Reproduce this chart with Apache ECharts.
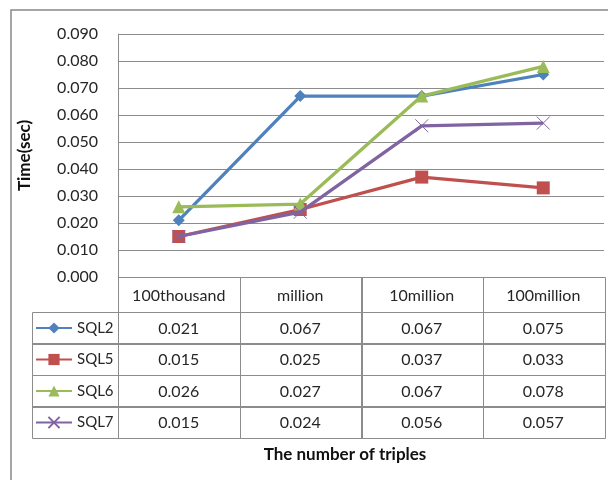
<!DOCTYPE html>
<html><head><meta charset="utf-8">
<script src="https://cdn.jsdelivr.net/npm/echarts@6/dist/echarts.min.js"></script>
<style>html,body{margin:0;padding:0;background:#fff}#c{width:608px;height:480px}</style>
</head><body><div id="c"></div>
<script>
const categories = ['100thousand', 'million', '10million', '100million'];
const seriesNames = ['SQL2', 'SQL5', 'SQL6', 'SQL7'];
const sql2 = [0.021, 0.067, 0.067, 0.075];
const sql5 = [0.015, 0.025, 0.037, 0.033];
const sql6 = [0.026, 0.027, 0.067, 0.078];
const sql7 = [0.015, 0.024, 0.056, 0.057];
const yMin = 0, yMax = 0.09, yStep = 0.01;
const xTitle = 'The number of triples';
const yTitle = 'Time(sec)';

const allSeries = [sql2, sql5, sql6, sql7];
const colors = ['#4F81BD', '#C0504D', '#9BBB59', '#8064A2'];
const symbols = ['diamond', 'rect', 'triangle', 'path://M0,0L10,10M10,0L0,10'];
const symbolSizes = [12, 13, 13, 13];
const FONT = 'Lato, "Liberation Sans", sans-serif';
const TXT = '#262626';
const GRID = '#8c8c8c';
const rowEdges = [0, 1.1, 2.1, 3.1, 4.1, 5.1];

const chart = echarts.init(document.getElementById('c'), null, {renderer: 'canvas'});

const tableData = [];
for (let c = 0; c < categories.length; c++) for (let r = 0; r <= seriesNames.length; r++) tableData.push([c, r]);
const legendCells = [];
for (let r = 1; r <= seriesNames.length; r++) legendCells.push([0, r]);

const lineSeries = seriesNames.map((n, i) => ({
  name: n, type: 'line', xAxisIndex: 0, yAxisIndex: 0,
  data: allSeries[i],
  symbol: symbols[i], symbolSize: symbolSizes[i], showAllSymbol: true,
  lineStyle: {color: colors[i], width: 3.3},
  itemStyle: {color: i === 3 ? 'rgba(0,0,0,0)' : colors[i], borderColor: colors[i], borderWidth: i === 3 ? 1 : 0},
  emphasis: {disabled: true}, animation: false, z: 3 + i
}));

chart.setOption({
  animation: false,
  textStyle: {fontFamily: FONT},
  graphic: [{type: 'rect', shape: {x: 11, y: 10, width: 800, height: 700}, style: {fill: 'none', stroke: '#888', lineWidth: 1.5}, z: -1}],
  title: {text: xTitle, left: 345, top: 446, textAlign: 'center', padding: 0,
    textStyle: {fontFamily: FONT, fontSize: 17, fontWeight: 'bold', color: '#111'}},
  legend: {
    orient: 'vertical', left: 35, top: 320.5, padding: 0, itemWidth: 36, itemHeight: 14, itemGap: 16.5,
    data: seriesNames, selectedMode: false,
    textStyle: {fontFamily: FONT, fontSize: 15, color: TXT, lineHeight: 14, padding: 0}
  },
  grid: [
    {left: 118, right: 4, top: 34, bottom: 203},
    {left: 118, right: 4, top: 277, bottom: 42},
    {left: 32, width: 86, top: 277, bottom: 42}
  ],
  xAxis: [
    {type: 'category', gridIndex: 0, data: categories, boundaryGap: true, axisLine: {show: false}, axisTick: {show: false}, axisLabel: {show: false}, splitLine: {show: false}},
    {type: 'category', gridIndex: 1, data: categories, boundaryGap: true, show: false},
    {type: 'value', gridIndex: 2, min: 0, max: 1, show: false}
  ],
  yAxis: [
    {type: 'value', gridIndex: 0, min: yMin, max: yMax, interval: yStep,
      name: yTitle, nameLocation: 'middle', nameGap: 85,
      nameTextStyle: {fontFamily: FONT, fontSize: 17, fontWeight: 'bold', color: '#111'},
      axisLine: {show: true, lineStyle: {color: GRID, width: 1}}, axisTick: {show: false},
      axisLabel: {margin: 20, fontSize: 16, color: TXT, fontFamily: FONT, formatter: v => v.toFixed(3)},
      splitLine: {show: true, lineStyle: {color: GRID, width: 1}}},
    {type: 'value', gridIndex: 1, min: 0, max: 5.1, inverse: true, show: false},
    {type: 'value', gridIndex: 2, min: 0, max: 5.1, inverse: true, show: false}
  ],
  series: lineSeries.concat([
    {
      type: 'custom', xAxisIndex: 1, yAxisIndex: 1, data: tableData, silent: true, z: 1,
      renderItem: (params, api) => {
        const c = api.value(0), r = api.value(1);
        const w = api.size([1, 0])[0];
        const cx = api.coord([c, 0])[0];
        const y0 = api.coord([c, rowEdges[r]])[1];
        const y1 = api.coord([c, rowEdges[r + 1]])[1];
        const label = r === 0 ? categories[c] : allSeries[r - 1][c].toFixed(3);
        return {type: 'group', children: [
          {type: 'rect', shape: {x: Math.round(cx - w / 2) + 0.5, y: Math.round(y0) + 0.5, width: Math.round(w), height: Math.round(y1 - y0)},
            style: {fill: 'none', stroke: GRID, lineWidth: 1}},
          {type: 'text', style: {text: label, x: cx, y: (y0 + y1) / 2 + 1, align: 'center', verticalAlign: 'middle',
            font: '16px ' + FONT, fill: TXT}}
        ]};
      }
    },
    {
      type: 'custom', xAxisIndex: 2, yAxisIndex: 2, data: legendCells, silent: true, z: 1,
      renderItem: (params, api) => {
        const r = api.value(1);
        const p0 = api.coord([0, rowEdges[r]]);
        const p1 = api.coord([1, rowEdges[r + 1]]);
        return {type: 'rect', shape: {x: Math.round(p0[0]) + 0.5, y: Math.round(p0[1]) + 0.5, width: Math.round(p1[0] - p0[0]), height: Math.round(p1[1] - p0[1])},
          style: {fill: 'none', stroke: GRID, lineWidth: 1}};
      }
    }
  ])
});
</script></body></html>
